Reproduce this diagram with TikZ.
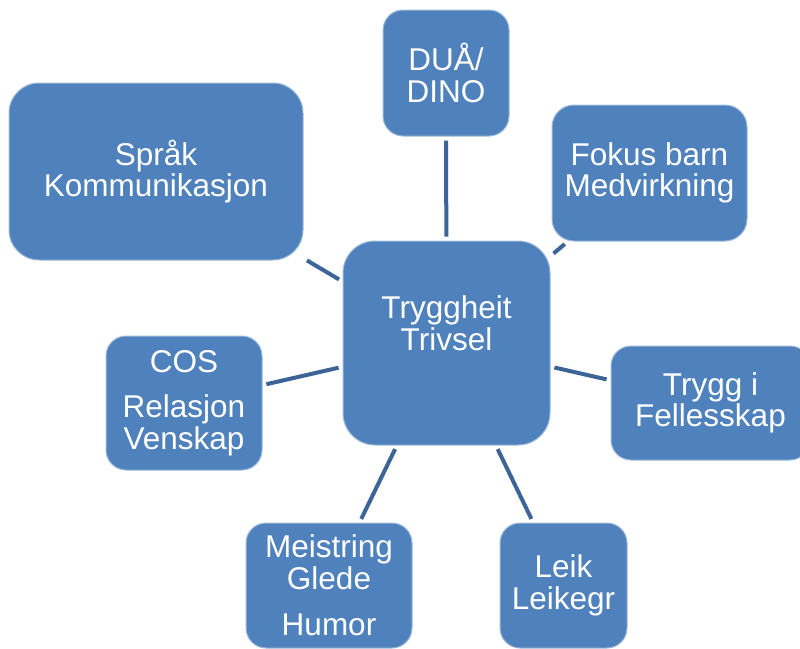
\documentclass[tikz,border=0pt]{standalone}
\usepackage{fontspec}
\setmainfont{Liberation Sans}
\definecolor{boxblue}{HTML}{4F81BD}
\definecolor{linkblue}{HTML}{3C6498}
\tikzset{
  topic/.style={draw=boxblue!55!white, line width=1pt, fill=boxblue, text=white,
    rounded corners=#1, align=center, inner sep=0pt,
    font=\fontsize{31.5}{31.5}\selectfont},
  topic/.default=20pt,
  link/.style={draw=linkblue, line width=4pt, shorten <=4pt, shorten >=4pt}
}
\begin{document}
\begin{tikzpicture}[x=1pt, y=-1pt]
    \useasboundingbox (0,0) rectangle (800,648);

    % centre
    \node[topic=32pt, minimum width=207pt, minimum height=204pt] (trygg) at (446.5,343) {};
    \node[text=white, align=center, inner sep=0pt, font=\fontsize{31.5}{31.5}\selectfont]
      (tryggtext) at (446.5,323) {Tryggheit\\Trivsel};

    % the topics round it
    \node[topic, minimum width=126pt, minimum height=126pt] (dua) at (446,73) {DUÅ/\\DINO};
    \node[topic=22pt, minimum width=195pt, minimum height=136pt] (fokus) at (649.5,173) {Fokus barn\\Medvirkning};
    \node[topic=30pt, minimum width=294pt, minimum height=177pt] (sprak) at (156,171.5) {Språk\\Kommunikasjon};
    \node[topic, minimum width=156pt, minimum height=134pt] (cos) at (184,403) {COS\\[14pt]Relasjon\\Venskap};
    \node[topic, minimum width=199pt, minimum height=114pt] (felles) at (710.5,403) {Trygg i\\Fellesskap};
    \node[topic, minimum width=166pt, minimum height=125pt] (meistring) at (329,585.5) {Meistring\\Glede\\[15pt]Humor};
    \node[topic, minimum width=127pt, minimum height=125pt] (leik) at (563.5,585.5) {Leik\\Leikegr};

    % spokes
    \foreach \t in {dua,fokus,sprak,cos,felles,meistring,leik}
      \draw[link] (trygg) -- (\t);
\end{tikzpicture}
\end{document}
